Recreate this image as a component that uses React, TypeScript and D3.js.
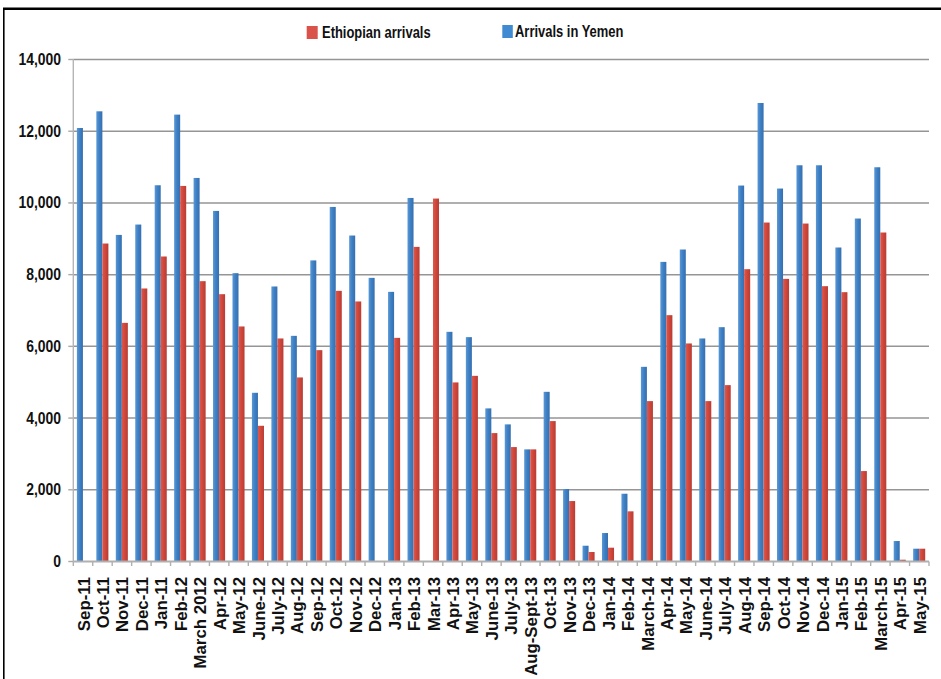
import React from "react";
import * as d3 from "d3";

const categories = [
  "Sep-11", "Oct-11", "Nov-11", "Dec-11", "Jan-11", "Feb-12", "March 2012", "Apr-12", "May-12",
  "June-12", "July-12", "Aug-12", "Sep-12", "Oct-12", "Nov-12", "Dec-12", "Jan-13", "Feb-13",
  "Mar-13", "Apr-13", "May-13", "June-13", "July-13", "Aug-Sept-13", "Oct-13", "Nov-13", "Dec-13",
  "Jan-14", "Feb-14", "March-14", "Apr-14", "May-14", "June-14", "July-14", "Aug-14", "Sep-14",
  "Oct-14", "Nov-14", "Dec-14", "Jan-15", "Feb-15", "March-15", "Apr-15", "May-15",
];

const arrivalsYemen = [
  12090, 12555, 9108, 9397, 10493, 12463, 10697, 9777, 8041,
  4705, 7670, 6293, 8397, 9888, 9091, 7910, 7520, 10139,
  0, 6405, 6257, 4270, 3824, 3127, 4732, 2021, 440,
  794, 1890, 5429, 8356, 8701, 6220, 6535, 10485, 12787,
  10401, 11050, 11050, 8757, 9565, 10995, 571, 357,
];

const ethiopianArrivals = [
  0, 8868, 6655, 7614, 8506, 10474, 7818, 7455, 6555,
  3785, 6220, 5133, 5894, 7548, 7252, 0, 6237, 8774,
  10122, 4994, 5178, 3581, 3191, 3127, 3916, 1686, 265,
  385, 1399, 4473, 6870, 6081, 4473, 4919, 8152, 9453,
  7882, 9425, 7678, 7511, 2522, 9175, 50, 357,
];

const yTicks = [0, 2000, 4000, 6000, 8000, 10000, 12000, 14000];
const seriesKeys = ["yemen", "ethiopian"];
const seriesLabels = ["Arrivals in Yemen", "Ethiopian arrivals"];

const BLUE = "#3d7fc3";
const RED = "#cf463b";

export default function App() {
  const W = 941;
  const H = 679;
  const left = 73.3;
  const right = 929;
  const y0 = 561.5;
  const yTop = 59.5;

  const x = d3.scaleBand<string>().domain(categories).range([left, right]).padding(0);
  const bw = x.bandwidth();
  const x1 = d3.scaleBand<string>().domain(seriesKeys).range([bw * 0.185, bw * 0.805]).padding(0);
  const y = d3.scaleLinear().domain([0, 14000]).range([y0, yTop]);
  const fmt = d3.format(",");

  const font = "'Liberation Sans', Arial, Helvetica, sans-serif";

  const data = categories.map((c, i) => ({ c, yemen: arrivalsYemen[i], ethiopian: ethiopianArrivals[i] }));

  return (
    <svg
      width={W}
      height={H}
      style={{ position: "absolute", left: 0, top: 0, background: "#fff" }}
      fontFamily={font}
    >
      <defs>
        <linearGradient id="gBlue" x1="0" x2="1" y1="0" y2="0">
          <stop offset="0" stopColor="#5a98d6" />
          <stop offset="0.5" stopColor={BLUE} />
          <stop offset="1" stopColor="#356fb0" />
        </linearGradient>
        <linearGradient id="gRed" x1="0" x2="1" y1="0" y2="0">
          <stop offset="0" stopColor="#e0574b" />
          <stop offset="0.5" stopColor={RED} />
          <stop offset="1" stopColor="#b83c33" />
        </linearGradient>
      </defs>
      <rect x={0} y={0} width={W} height={H} fill="#fff" />
      {/* frame */}
      <line x1={3} x2={W} y1={8.7} y2={8.7} stroke="#000" strokeWidth={2.6} />
      <line x1={3.8} x2={3.8} y1={8} y2={H} stroke="#000" strokeWidth={1.6} />

      {/* legend */}
      <rect x={306.7} y={26} width={11} height={13} fill="#d9534a" />
      <text
        transform="translate(322,37.5) scale(0.81,1)"
        fontSize={16}
        fontWeight="bold"
        fill="#111"
      >
        {seriesLabels[1]}
      </text>
      <rect x={502.3} y={25} width={10.5} height={13} fill="#3f8ad0" />
      <text
        transform="translate(515,36.5) scale(0.81,1)"
        fontSize={16}
        fontWeight="bold"
        fill="#111"
      >
        {seriesLabels[0]}
      </text>

      {/* gridlines */}
      {yTicks.map((t) => (
        <g key={t}>
          {t > 0 && (
            <line x1={left} x2={right} y1={y(t)} y2={y(t)} stroke="#959595" strokeWidth={1.5} />
          )}
          <line x1={left - 5} x2={left} y1={y(t)} y2={y(t)} stroke="#aaa" strokeWidth={1.4} />
          <text
            transform={`translate(61,${y(t) + 5.5}) scale(0.87,1)`}
            textAnchor="end"
            fontSize={16}
            fontWeight="bold"
            fill="#111"
          >
            {fmt(t)}
          </text>
        </g>
      ))}
      {/* y axis */}
      <line x1={left} x2={left} y1={yTop} y2={y0} stroke="#b5b5b5" strokeWidth={1.4} />

      {/* bars */}
      {data.map((d) => (
        <g key={d.c} transform={`translate(${x(d.c)},0)`}>
          {d.yemen > 0 && (
            <rect
              x={x1("yemen")}
              y={y(d.yemen)}
              width={x1.bandwidth()}
              height={y0 - y(d.yemen)}
              fill="url(#gBlue)"
            />
          )}
          {d.ethiopian > 0 && (
            <rect
              x={x1("ethiopian")}
              y={y(d.ethiopian)}
              width={x1.bandwidth()}
              height={y0 - y(d.ethiopian)}
              fill="url(#gRed)"
            />
          )}
        </g>
      ))}

      {/* x axis */}
      <line x1={left} x2={right} y1={y0} y2={y0} stroke="#b0b0b0" strokeWidth={2} />
      {categories.concat([""]).map((c, i) => {
        const xx = left + i * bw;
        return <line key={"t" + i} x1={xx} x2={xx} y1={y0} y2={y0 + 4.5} stroke="#b0b0b0" strokeWidth={1.4} />;
      })}
      {categories.map((c) => (
        <text
          key={"l" + c}
          transform={`translate(${(x(c) as number) + bw / 2 + 6.5},577) rotate(-90) scale(1.05,1)`}
          textAnchor="end"
          fontSize={16}
          fontWeight="bold"
          fill="#111"
        >
          {c}
        </text>
      ))}
    </svg>
  );
}
